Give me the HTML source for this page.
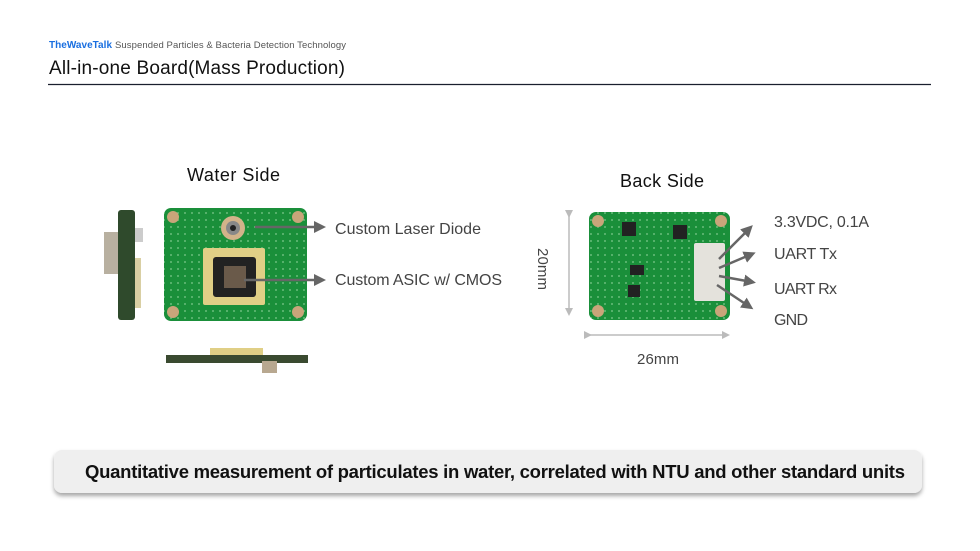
<!DOCTYPE html><html><head><style>body{margin:0;background:#fff}svg{display:block;font-family:"Liberation Sans",sans-serif}</style></head><body>
<svg width="980" height="551" viewBox="0 0 980 551" xmlns="http://www.w3.org/2000/svg">
<defs><filter id="sh" x="-5%" y="-30%" width="110%" height="170%"><feDropShadow dx="0" dy="3" stdDeviation="2" flood-color="#000" flood-opacity="0.35"/></filter>
<marker id="ar" markerWidth="12" markerHeight="12" refX="8" refY="6" orient="auto" markerUnits="userSpaceOnUse"><path d="M0,0 L12,6 L0,12 Z" fill="#666"/></marker>
<marker id="ag" markerWidth="8" markerHeight="8" refX="6" refY="4" orient="auto" markerUnits="userSpaceOnUse"><path d="M0,0 L8,4 L0,8 Z" fill="#bbb"/></marker>
<pattern id="dots" width="7" height="7" patternUnits="userSpaceOnUse"><circle cx="3" cy="3" r="0.9" fill="#7fc98d"/></pattern></defs>
<text x="49" y="48" font-size="10" font-weight="bold" fill="#1a6fe0" textLength="63">TheWaveTalk</text>
<text x="115" y="48" font-size="9.5" fill="#555" textLength="231">Suspended Particles &amp; Bacteria Detection Technology</text>
<text x="49" y="74" font-size="19" fill="#111" textLength="296">All-in-one Board(Mass Production)</text>
<line x1="48" y1="84.5" x2="931" y2="84.5" stroke="#1a1f2e" stroke-width="1.3"/>
<text x="187" y="181" font-size="18" fill="#111" textLength="93">Water Side</text>
<text x="620" y="187" font-size="18" fill="#111" textLength="84">Back Side</text>
<rect x="104" y="232" width="14" height="42" fill="#b8b0a0"/>
<rect x="118" y="210" width="17" height="110" rx="3" fill="#2f4a2c"/>
<rect x="135" y="228" width="8" height="14" fill="#ccc"/>
<rect x="135" y="258" width="6" height="50" fill="#d9cfa3"/>
<rect x="164" y="208" width="143" height="113" rx="7" fill="#1a8f3a"/>
<rect x="164" y="208" width="143" height="113" rx="7" fill="url(#dots)"/>
<circle cx="173" cy="217" r="6" fill="#c9a57a"/><circle cx="298" cy="217" r="6" fill="#c9a57a"/>
<circle cx="173" cy="312" r="6" fill="#c9a57a"/><circle cx="298" cy="312" r="6" fill="#c9a57a"/>
<circle cx="233" cy="228" r="12" fill="#d2b38a"/><circle cx="233" cy="228" r="7" fill="#888"/><circle cx="233" cy="228" r="3" fill="#222"/>
<rect x="203" y="248" width="62" height="57" rx="2" fill="#e0cf86"/>
<rect x="213" y="257" width="43" height="40" rx="3" fill="#222"/>
<rect x="224" y="266" width="22" height="22" fill="#6a5a4a"/>
<line x1="255" y1="227" x2="322" y2="227" stroke="#666" stroke-width="2.5" marker-end="url(#ar)"/>
<line x1="244" y1="280" x2="322" y2="280" stroke="#666" stroke-width="2.5" marker-end="url(#ar)"/>
<text x="335" y="234" font-size="16" fill="#444" textLength="146">Custom Laser Diode</text>
<text x="335" y="285" font-size="16" fill="#444" textLength="167">Custom ASIC w/ CMOS</text>
<rect x="210" y="348" width="53" height="8" fill="#e0cf86"/>
<rect x="166" y="355" width="142" height="8" fill="#3a4a30"/>
<rect x="262" y="361" width="15" height="12" fill="#b8a890"/>
<rect x="589" y="212" width="141" height="108" rx="7" fill="#1a8f3a"/>
<rect x="589" y="212" width="141" height="108" rx="7" fill="url(#dots)"/>
<circle cx="598" cy="221" r="6" fill="#c9a57a"/><circle cx="721" cy="221" r="6" fill="#c9a57a"/>
<circle cx="598" cy="311" r="6" fill="#c9a57a"/><circle cx="721" cy="311" r="6" fill="#c9a57a"/>
<rect x="622" y="222" width="14" height="14" fill="#222"/><rect x="673" y="225" width="14" height="14" fill="#222"/>
<rect x="630" y="265" width="14" height="10" fill="#222"/><rect x="628" y="285" width="12" height="12" fill="#222"/>
<rect x="694" y="243" width="31" height="58" rx="2" fill="#e4e2dc"/>
<line x1="569" y1="216" x2="569" y2="314" stroke="#bbb" stroke-width="1.5" marker-end="url(#ag)" marker-start="url(#ag)"/>
<line x1="590" y1="335" x2="728" y2="335" stroke="#bbb" stroke-width="1.5" marker-end="url(#ag)" marker-start="url(#ag)"/>
<text transform="translate(538,248) rotate(90)" font-size="15" fill="#444" textLength="42">20mm</text>
<text x="637" y="364" font-size="15" fill="#444" textLength="42">26mm</text>
<g stroke="#666" stroke-width="2.5"><line x1="719" y1="259" x2="750" y2="228" marker-end="url(#ar)"/><line x1="719" y1="268" x2="752" y2="254" marker-end="url(#ar)"/><line x1="719" y1="276" x2="752" y2="282" marker-end="url(#ar)"/><line x1="717" y1="285" x2="750" y2="307" marker-end="url(#ar)"/></g>
<text x="774" y="227" font-size="16" fill="#444" textLength="95">3.3VDC, 0.1A</text>
<text x="774" y="259" font-size="16" fill="#444" textLength="63">UART Tx</text>
<text x="774" y="294" font-size="16" fill="#444" textLength="63">UART Rx</text>
<text x="774" y="325" font-size="16" fill="#444" textLength="34">GND</text>
<rect x="54" y="450" width="868" height="43" rx="8" fill="#efefef" filter="url(#sh)"/>
<text x="85" y="478" font-size="18.5" font-weight="bold" fill="#111" textLength="820">Quantitative measurement of particulates in water, correlated with NTU and other standard units</text>
</svg></body></html>
